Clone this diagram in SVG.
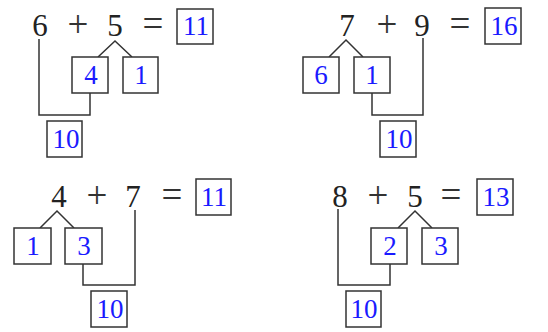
<svg xmlns="http://www.w3.org/2000/svg" width="548" height="332" viewBox="0 0 548 332">
<style>
.eq{font-family:"Liberation Serif","Times New Roman",serif;font-size:31px;fill:#222;text-anchor:middle}
.op{font-family:"Liberation Serif","Times New Roman",serif;font-size:37px;fill:#333;text-anchor:middle}
.box{fill:#fff;stroke:#333;stroke-width:1.5}
.num{font-family:"Liberation Serif","Times New Roman",serif;font-size:27px;fill:#1a1aff;text-anchor:middle}
.ln{fill:none;stroke:#333;stroke-width:1.5}
</style>
<rect width="548" height="332" fill="#fff"/>
<g id="connectors">
<polyline class="ln" points="98,57 115,41 132,57"/>
<polyline class="ln" points="39,39 39,115 90,115 90,93"/>
<polyline class="ln" points="329,57 346,40 363,57"/>
<polyline class="ln" points="372,93 372,115 423,115 423,38"/>
<polyline class="ln" points="40,228 57,211 74,228"/>
<polyline class="ln" points="83,264 83,285 135,285 135,210"/>
<polyline class="ln" points="398,228 415,211 432,228"/>
<polyline class="ln" points="338,209 338,285 390,285 390,264"/>
</g>
<g id="eq1">
<text class="eq" x="40" y="36">6</text>
<text class="op" x="78" y="37">+</text>
<text class="eq" x="115" y="36">5</text>
<text class="op" x="153" y="36">=</text>
</g>
<g id="p1-sum"><rect class="box" x="177" y="9" width="36" height="35"/><text class="num" x="196" y="35">11</text></g>
<g id="p1-a"><rect class="box" x="72" y="57" width="36" height="36"/><text class="num" x="91" y="84">4</text></g>
<g id="p1-b"><rect class="box" x="123" y="57" width="35" height="36"/><text class="num" x="141" y="84">1</text></g>
<g id="p1-ten"><rect class="box" x="47" y="121" width="35" height="36"/><text class="num" x="66" y="148">10</text></g>

<g id="eq2">
<text class="eq" x="347" y="36">7</text>
<text class="op" x="387" y="37">+</text>
<text class="eq" x="422" y="36">9</text>
<text class="op" x="460" y="36">=</text>
</g>
<g id="p2-sum"><rect class="box" x="485" y="8" width="36" height="36"/><text class="num" x="504" y="35">16</text></g>
<g id="p2-a"><rect class="box" x="303" y="57" width="36" height="36"/><text class="num" x="321" y="84">6</text></g>
<g id="p2-b"><rect class="box" x="354" y="57" width="36" height="36"/><text class="num" x="372" y="84">1</text></g>
<g id="p2-ten"><rect class="box" x="380" y="121" width="36" height="36"/><text class="num" x="399" y="148">10</text></g>

<g id="eq3">
<text class="eq" x="59" y="207">4</text>
<text class="op" x="97" y="208">+</text>
<text class="eq" x="133" y="207">7</text>
<text class="op" x="172" y="207">=</text>
</g>
<g id="p3-sum"><rect class="box" x="196" y="179" width="35" height="36"/><text class="num" x="214" y="206">11</text></g>
<g id="p3-a"><rect class="box" x="14" y="228" width="37" height="36"/><text class="num" x="33" y="255">1</text></g>
<g id="p3-b"><rect class="box" x="65" y="228" width="37" height="36"/><text class="num" x="84" y="255">3</text></g>
<g id="p3-ten"><rect class="box" x="91" y="291" width="36" height="36"/><text class="num" x="110" y="318">10</text></g>

<g id="eq4">
<text class="eq" x="340" y="207">8</text>
<text class="op" x="378" y="208">+</text>
<text class="eq" x="415" y="207">5</text>
<text class="op" x="451" y="207">=</text>
</g>
<g id="p4-sum"><rect class="box" x="477" y="179" width="36" height="36"/><text class="num" x="496" y="206">13</text></g>
<g id="p4-a"><rect class="box" x="371" y="228" width="36" height="36"/><text class="num" x="390" y="255">2</text></g>
<g id="p4-b"><rect class="box" x="422" y="228" width="36" height="36"/><text class="num" x="441" y="255">3</text></g>
<g id="p4-ten"><rect class="box" x="346" y="291" width="35" height="36"/><text class="num" x="364" y="318">10</text></g>
</svg>
